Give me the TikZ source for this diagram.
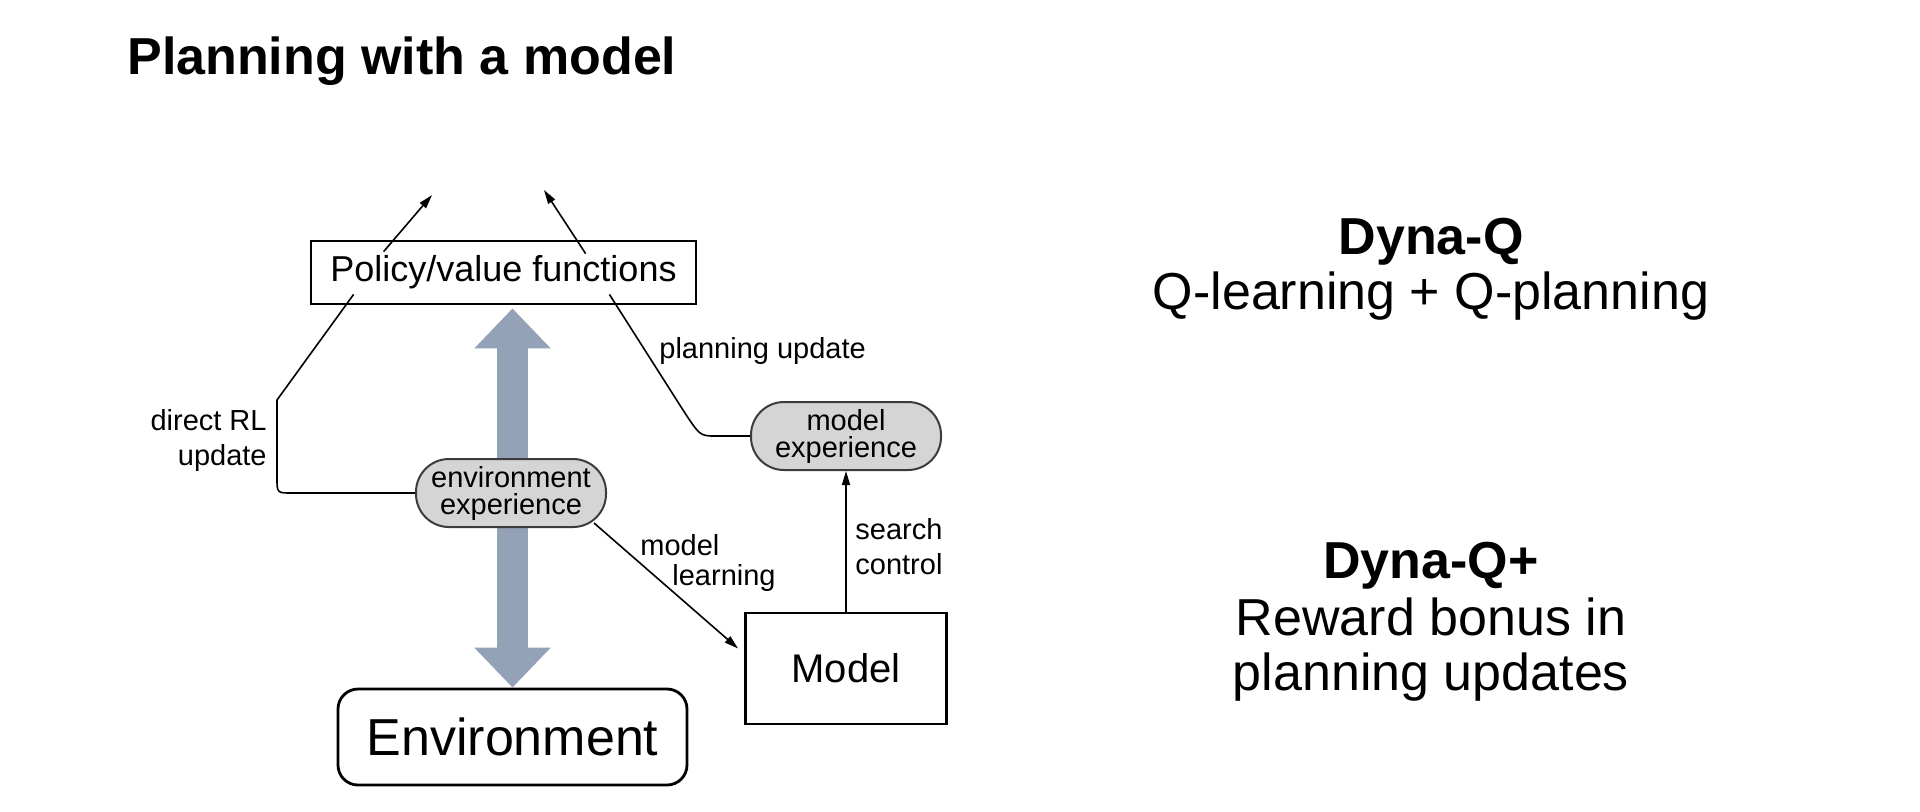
\documentclass[tikz,border=0pt]{standalone}
\usepackage{fontspec}
\setmainfont{Liberation Sans}
\usetikzlibrary{arrows.meta,calc}
\definecolor{arrowblue}{HTML}{94A2B8}
\definecolor{pillgray}{HTML}{D5D5D5}
\definecolor{pillline}{HTML}{3C3C3C}
\begin{document}
\begin{tikzpicture}[x=0.5pt,y=-0.5pt,
  box/.style={draw, line width=1.4pt, inner sep=0pt, align=center},
  pill/.style={draw=pillline, fill=pillgray, line width=1pt, rounded corners=16.5pt,
    minimum width=95pt, minimum height=34pt, inner sep=0pt, align=center,
    font=\fontsize{14.5}{13.5}\selectfont},
  lbl/.style={inner sep=0pt, font=\fontsize{14.5}{17.5}\selectfont},
  conn/.style={line width=0.8pt, -{Triangle[length=7pt,width=4pt]}},
  plainline/.style={line width=0.8pt},
  bigarrow/.style={line width=15.5pt, draw=arrowblue,
    {Triangle[length=20pt,width=37pt]}-{Triangle[length=20pt,width=37pt]}},
  head/.style={inner sep=0pt, font=\fontsize{26}{30}\selectfont},
  headbold/.style={inner sep=0pt, font=\bfseries\fontsize{26}{30}\selectfont}]

\fill[white] (0,0) rectangle (1920,811);
\useasboundingbox (0,0) rectangle (1920,811);

% title
\node[headbold, anchor=base west] (title) at (127,74) {Planning with a model};

% main boxes
\node[box, minimum width=192.5pt, minimum height=31.5pt, font=\fontsize{18}{21}\selectfont] (policy) at (503.5,272.5) {Policy/value functions};
\node[box, rounded corners=10pt, minimum width=174.5pt, minimum height=48pt, font=\fontsize{26}{30}\selectfont] (env) at (512.5,737) {Environment};
\node[box, minimum width=100.5pt, minimum height=55.5pt, font=\fontsize{20}{24}\selectfont] (model) at (846,668.5) {Model};

% big double arrow
\draw[bigarrow] ($(env.north |- policy.south)+(0,3)$) -- (env.north);

% experience pills
\node[pill] (envexp) at (511,493) {environment\\experience};
\node[pill] (mexp) at (846,436) {model\\experience};

% connectors
\coordinate (tipL) at (432,195);
\coordinate (tipR) at (544,190);
\draw[conn] ($(policy.north west)+(74,12)$) -- (tipL);
\draw[conn] ($(policy.north west)+(276,14)$) -- (tipR);
\draw[plainline] ($(policy.south west)+(44,-11)$) -- (277,400) -- (277,478)
  .. controls (277,493) .. (292,493) -- (envexp.west);
\draw[plainline] ($(policy.south east)+(-88,-11)$) -- (683,410)
  .. controls (700,436) .. (716,436) -- (mexp.west);
\draw[conn] ($(envexp.south east)+(-13,-5)$) -- ($(model.west)+(-6,-20)$);
\draw[conn] (model.north) -- (mexp.south);

% labels
\node[lbl, anchor=east, align=right] (dlbl) at (267,440) {direct RL\\update};
\node[lbl, anchor=base west] (plbl) at (659,358) {planning update};
\node[lbl, anchor=north west, align=left, font=\fontsize{14.5}{15}\selectfont] (mlbl) at (640,534) {model\\\hspace*{16pt}learning};
\node[lbl, anchor=north west, align=left] (slbl) at (855,518) {search\\control};

% right-hand text
\node[headbold, anchor=base] (dq) at (1431,254) {Dyna-Q};
\node[head, anchor=base] (dqt) at (1431,309) {Q-learning + Q-planning};
\node[headbold, anchor=base] (dqp) at (1431,578) {Dyna-Q+};
\node[head, anchor=base] (dqp1) at (1431,635) {Reward bonus in};
\node[head, anchor=base] (dqp2) at (1431,690) {planning updates};
\end{tikzpicture}
\end{document}
